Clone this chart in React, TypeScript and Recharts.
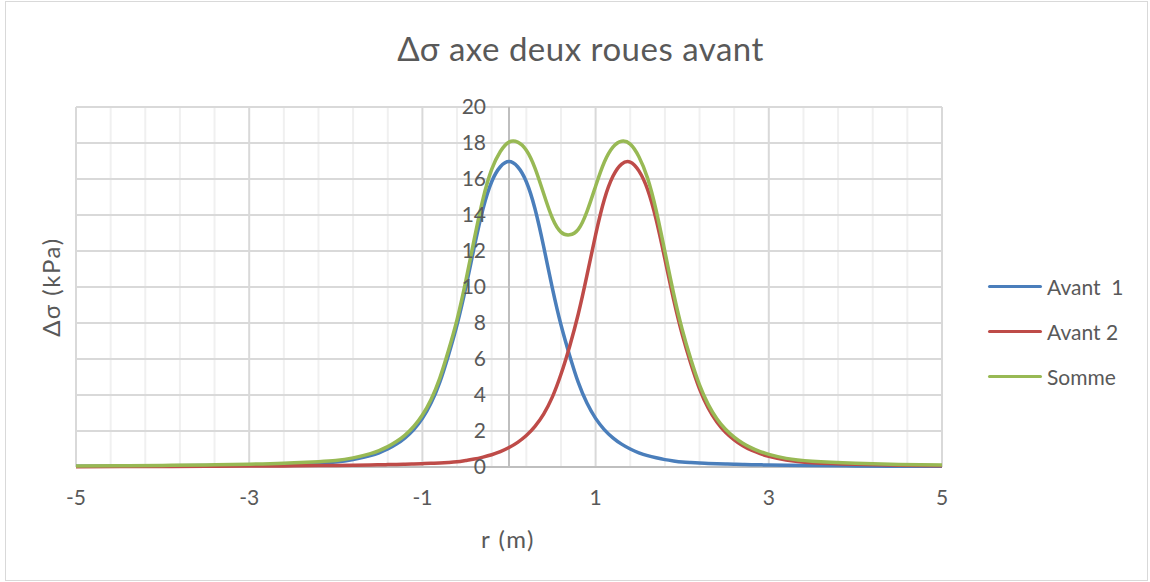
import { LineChart, Line, XAxis, YAxis, ReferenceLine, ReferenceDot } from "recharts";

// r (m) sample positions
const rValues = [
  -5, -4.5, -4, -3.5, -3, -2.6, -2.2, -2,
  -1.8, -1.6, -1.5, -1.4, -1.3, -1.2, -1.1, -1,
  -0.9, -0.8, -0.7, -0.6, -0.5, -0.4, -0.3, -0.2, -0.1,
  0,
  0.1, 0.2, 0.3, 0.4, 0.5, 0.6, 0.7, 0.8, 0.9,
  1, 1.1, 1.2, 1.3, 1.4, 1.5, 1.6, 1.7, 1.8, 1.9,
  2, 2.1, 2.2, 2.3, 2.4, 2.5, 2.6, 2.7, 2.8, 2.9,
  3, 3.2, 3.5, 4, 4.5, 5,
];

// Δσ (kPa) for each wheel and the sum
const avant1 = [
  0.035, 0.045, 0.06, 0.08, 0.11, 0.15, 0.22, 0.275,
  0.41, 0.63, 0.79, 1.0, 1.27, 1.62, 2.08, 2.7,
  3.55, 4.7, 6.2, 7.9, 9.95, 12.25, 14.35, 15.85, 16.68,
  16.97,
  16.68, 15.85, 14.35, 12.25, 9.95, 7.9, 6.2, 4.7, 3.55,
  2.7, 2.08, 1.62, 1.27, 1.0, 0.79, 0.63, 0.51, 0.41, 0.335,
  0.275, 0.245, 0.22, 0.2, 0.18, 0.165, 0.15, 0.14, 0.13, 0.12,
  0.11, 0.095, 0.08, 0.06, 0.045, 0.035,
];

const avant2 = [
  0.02, 0.025, 0.03, 0.038, 0.049, 0.061, 0.077, 0.085,
  0.097, 0.113, 0.123, 0.133, 0.143, 0.155, 0.17, 0.186,
  0.206, 0.228, 0.255, 0.29, 0.36, 0.44, 0.55, 0.68, 0.85,
  1.08,
  1.37, 1.75, 2.26, 2.94, 3.88, 5.15, 6.7, 8.5, 10.64,
  12.9, 14.85, 16.15, 16.83, 16.94, 16.45, 15.42, 13.73, 11.56, 9.33,
  7.37, 5.74, 4.34, 3.28, 2.5, 1.93, 1.51, 1.18, 0.93, 0.74,
  0.59, 0.385, 0.24, 0.148, 0.1, 0.075,
];

const somme = [
  0.055, 0.07, 0.09, 0.118, 0.159, 0.211, 0.297, 0.36,
  0.507, 0.743, 0.913, 1.133, 1.413, 1.775, 2.25, 2.886,
  3.756, 4.928, 6.455, 8.19, 10.31, 12.69, 14.9, 16.53, 17.53,
  18.05,
  18.05, 17.6, 16.61, 15.19, 13.83, 13.05, 12.9, 13.2, 14.19,
  15.6, 16.93, 17.77, 18.1, 17.94, 17.24, 16.05, 14.24, 11.97, 9.665,
  7.645, 5.985, 4.56, 3.48, 2.68, 2.095, 1.66, 1.32, 1.06, 0.86,
  0.7, 0.48, 0.32, 0.208, 0.145, 0.11,
];

const xTicks = [-5, -3, -1, 1, 3, 5];
const xMinorGrid = [-4.6, -4.2, -3.8, -3.4, -2.6, -2.2, -1.8, -1.4, -0.6, -0.2, 0.2, 0.6, 1.4, 1.8, 2.2, 2.6, 3.4, 3.8, 4.2, 4.6];
const yTicks = [0, 2, 4, 6, 8, 10, 12, 14, 16, 18, 20];

const seriesKeys = ["a1", "a2", "s"];
const seriesNames = ["Avant  1", "Avant 2", "Somme"];
const seriesColors = ["#4A7EBB", "#BE4B48", "#98B954"];

const data = rValues.map((r, i) => ({
  r,
  a1: avant1[i],
  a2: avant2[i],
  s: somme[i],
}));

const FONT = "Lato, 'Open Sans', sans-serif";
const TEXT = "#595959";

export default function App() {
  return (
    <div
      style={{
        position: "absolute",
        left: 0,
        top: 0,
        width: 1150,
        height: 582,
        background: "#fff",
        fontFamily: FONT,
      }}
    >
      <div
        style={{
          position: "absolute",
          left: 5,
          top: 1,
          width: 1141,
          height: 578,
          border: "1px solid #d9d9d9",
        }}
      />
      <div
        style={{
          position: "absolute",
          left: 0,
          width: 1161,
          top: 28,
          textAlign: "center",
          fontSize: 33,
          letterSpacing: 0.5,
          color: TEXT,
        }}
      >
        Δσ axe deux roues avant
      </div>
      <div
        style={{
          position: "absolute",
          left: 50,
          top: 287,
          transform: "translate(-50%, -50%) rotate(-90deg)",
          fontSize: 24,
          letterSpacing: 1.5,
          color: TEXT,
          whiteSpace: "nowrap",
        }}
      >
        Δσ (kPa)
      </div>
      <div
        style={{
          position: "absolute",
          left: 508,
          top: 538,
          transform: "translate(-50%, -50%)",
          fontSize: 24,
          letterSpacing: 1.5,
          color: TEXT,
          whiteSpace: "nowrap",
        }}
      >
        r (m)
      </div>

      {/* legend */}
      <div style={{ position: "absolute", left: 988, top: 264 }}>
        {seriesNames.map((name, i) => (
          <div key={name} style={{ display: "flex", alignItems: "center", height: 45 }}>
            <div style={{ width: 54, height: 3, background: seriesColors[i], borderRadius: 2, marginRight: 5 }} />
            <span style={{ fontSize: 21, color: TEXT, whiteSpace: "pre" }}>{name}</span>
          </div>
        ))}
      </div>

      <div style={{ position: "absolute", left: 0, top: 0 }}>
        <LineChart width={1150} height={582} data={data} margin={{ top: 107, right: 208, bottom: 85, left: 76 }}>
          {xMinorGrid.map((v) => (
            <ReferenceLine key={"m" + v} x={v} stroke="#f0f0f0" strokeWidth={2} />
          ))}
          {xTicks.map((v) => (
            <ReferenceLine key={"M" + v} x={v} stroke="#d9d9d9" strokeWidth={2} />
          ))}
          {yTicks.map((v) => (
            <ReferenceLine key={"h" + v} y={v} stroke="#d9d9d9" strokeWidth={2} />
          ))}
          <ReferenceLine x={0} stroke="#bfbfbf" strokeWidth={2} />
          <ReferenceLine y={0} stroke="#bfbfbf" strokeWidth={2} />

          <XAxis
            dataKey="r"
            type="number"
            domain={[-5, 5]}
            ticks={xTicks}
            height={30}
            axisLine={false}
            tickLine={false}
            tickSize={0}
            tickMargin={23}
            tick={{ fill: TEXT, fontSize: 21, fontFamily: FONT }}
          />
          <YAxis hide type="number" domain={[0, 20]} ticks={yTicks} />

          {yTicks.map((v) => (
            <ReferenceDot
              key={"yl" + v}
              x={0}
              y={v}
              r={0}
              fill="none"
              stroke="none"
              label={{ value: String(v), position: "left", offset: 23, fill: TEXT, fontSize: 21, fontFamily: FONT }}
            />
          ))}

          {seriesKeys.map((k, i) => (
            <Line
              key={k}
              type="natural"
              dataKey={k}
              name={seriesNames[i]}
              stroke={seriesColors[i]}
              strokeWidth={3.5}
              dot={false}
              isAnimationActive={false}
            />
          ))}
        </LineChart>
      </div>
    </div>
  );
}
